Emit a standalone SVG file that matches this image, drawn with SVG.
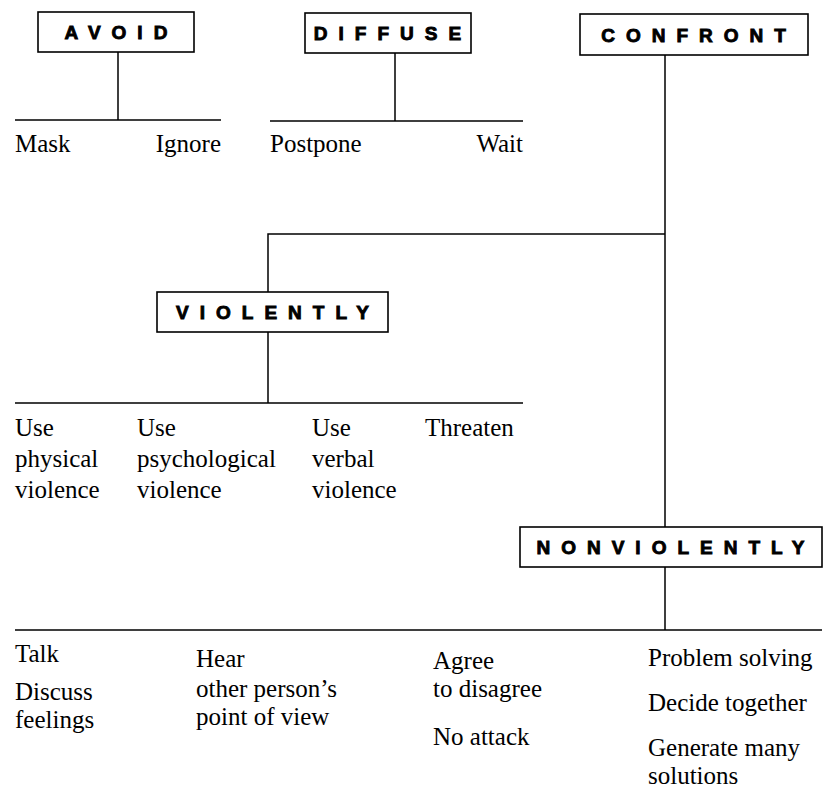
<svg xmlns="http://www.w3.org/2000/svg" width="824" height="795" viewBox="0 0 824 795">
<style>
  .box { fill: #ffffff; stroke: #000; stroke-width: 1.6; }
  .lbl { font-family: "Liberation Sans", Arial, sans-serif; font-weight: bold; font-size: 19px; letter-spacing: 11px; fill: #000; stroke: #000; stroke-width: 0.9; text-anchor: middle; }
  .t { font-family: "Liberation Serif", "Times New Roman", serif; font-size: 25px; fill: #000; }
  .e { text-anchor: end; }
  .ln { stroke: #000; stroke-width: 1.5; fill: none; }
</style>
<rect width="824" height="795" fill="#fff"/>
<g id="connectors">
  <path class="ln" d="M118 52 V120 M15 120 H221"/>
  <path class="ln" d="M395 53 V121 M270 121 H523"/>
  <path class="ln" d="M665 55 V527 M665 234 H268 V292"/>
  <path class="ln" d="M268 332 V403 M15 403 H523"/>
  <path class="ln" d="M665 567 V630 M15 630 H822"/>
</g>
<g id="avoid">
  <rect class="box" x="38" y="12" width="156" height="40"/>
  <text class="lbl" x="121.5" y="39">AVOID</text>
</g>
<g id="diffuse">
  <rect class="box" x="305" y="13" width="166" height="40"/>
  <text class="lbl" x="393" y="40">DIFFUSE</text>
</g>
<g id="confront">
  <rect class="box" x="580" y="14" width="228" height="41"/>
  <text class="lbl" x="699" y="41.5">CONFRONT</text>
</g>
<g id="violently">
  <rect class="box" x="157" y="292" width="231" height="40"/>
  <text class="lbl" x="278" y="319">VIOLENTLY</text>
</g>
<g id="nonviolently">
  <rect class="box" x="520" y="527" width="302" height="40"/>
  <text class="lbl" x="676" y="554">NONVIOLENTLY</text>
</g>
<g id="avoid-items">
  <text class="t" x="15" y="152">Mask</text>
  <text class="t e" x="221" y="152">Ignore</text>
</g>
<g id="diffuse-items">
  <text class="t" x="270" y="152">Postpone</text>
  <text class="t e" x="523" y="152">Wait</text>
</g>
<g id="violently-items">
  <text class="t" x="15" y="436">Use</text>
  <text class="t" x="15" y="467">physical</text>
  <text class="t" x="15" y="498">violence</text>
  <text class="t" x="137" y="436">Use</text>
  <text class="t" x="137" y="467">psychological</text>
  <text class="t" x="137" y="498">violence</text>
  <text class="t" x="312" y="436">Use</text>
  <text class="t" x="312" y="467">verbal</text>
  <text class="t" x="312" y="498">violence</text>
  <text class="t" x="425" y="436">Threaten</text>
</g>
<g id="nonviolently-items">
  <text class="t" x="15" y="662">Talk</text>
  <text class="t" x="15" y="700">Discuss</text>
  <text class="t" x="15" y="728">feelings</text>
  <text class="t" x="196" y="667">Hear</text>
  <text class="t" x="196" y="697">other person’s</text>
  <text class="t" x="196" y="725">point of view</text>
  <text class="t" x="433" y="669">Agree</text>
  <text class="t" x="433" y="697">to disagree</text>
  <text class="t" x="433" y="745">No attack</text>
  <text class="t" x="648" y="666">Problem solving</text>
  <text class="t" x="648" y="711">Decide together</text>
  <text class="t" x="648" y="756">Generate many</text>
  <text class="t" x="648" y="784">solutions</text>
</g>
</svg>
